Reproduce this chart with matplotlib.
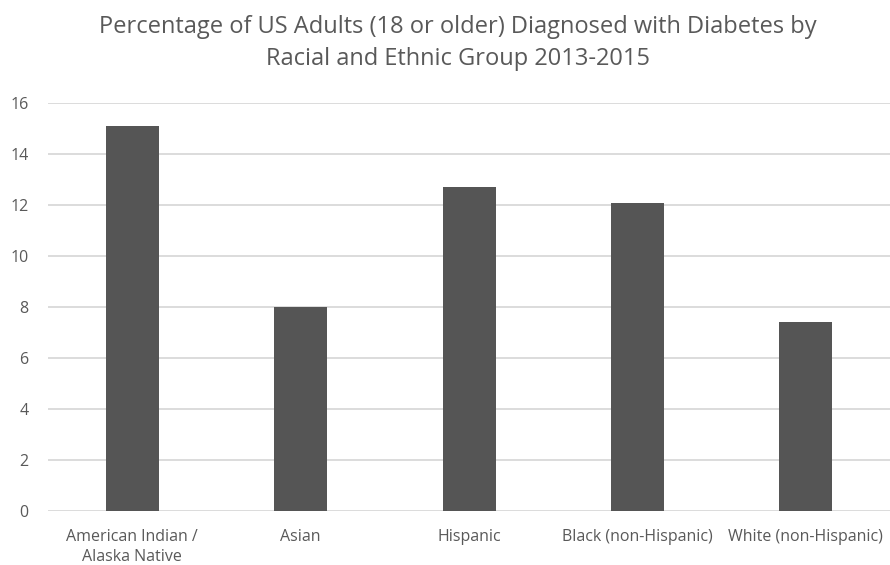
import matplotlib
matplotlib.use("Agg")
import matplotlib.pyplot as plt

categories = ["American Indian /\nAlaska Native", "Asian", "Hispanic",
              "Black (non-Hispanic)", "White (non-Hispanic)"]
values = [15.1, 8.0, 12.7, 12.1, 7.4]
yticks = [0, 2, 4, 6, 8, 10, 12, 14, 16]
title_lines = ["Percentage of US Adults (18 or older) Diagnosed with Diabetes by",
               "Racial and Ethnic Group 2013-2015"]

plt.rcParams["font.family"] = ["Open Sans", "DejaVu Sans"]
text_color = "#595959"

fig = plt.figure(figsize=(8.9, 5.65), dpi=100)
ax = fig.add_axes([0.054, 0.0956, 0.946, 0.7216])

x = range(len(categories))
ax.bar(x, values, width=0.315, color="#555555", zorder=3)

ax.set_xlim(-0.5, len(categories) - 0.5)
ax.set_ylim(0, 16)
ax.set_yticks(yticks)
ax.set_xticks(list(x))
ax.set_xticklabels(categories, linespacing=1.3)
ax.yaxis.grid(True, color="#d9d9d9", linewidth=1.3, zorder=0)
for s in ax.spines.values():
    s.set_visible(False)
ax.tick_params(axis="both", length=0, colors=text_color, labelsize=11.5)
ax.tick_params(axis="x", pad=13)
ax.tick_params(axis="y", pad=14)

title_x = 458 / 890
fig.text(title_x, 1 - 33 / 565, title_lines[0], ha="center", va="baseline",
         fontsize=17, color=text_color)
fig.text(title_x, 1 - 65 / 565, title_lines[1], ha="center", va="baseline",
         fontsize=17, color=text_color)

fig.savefig("out.png", dpi=100)
